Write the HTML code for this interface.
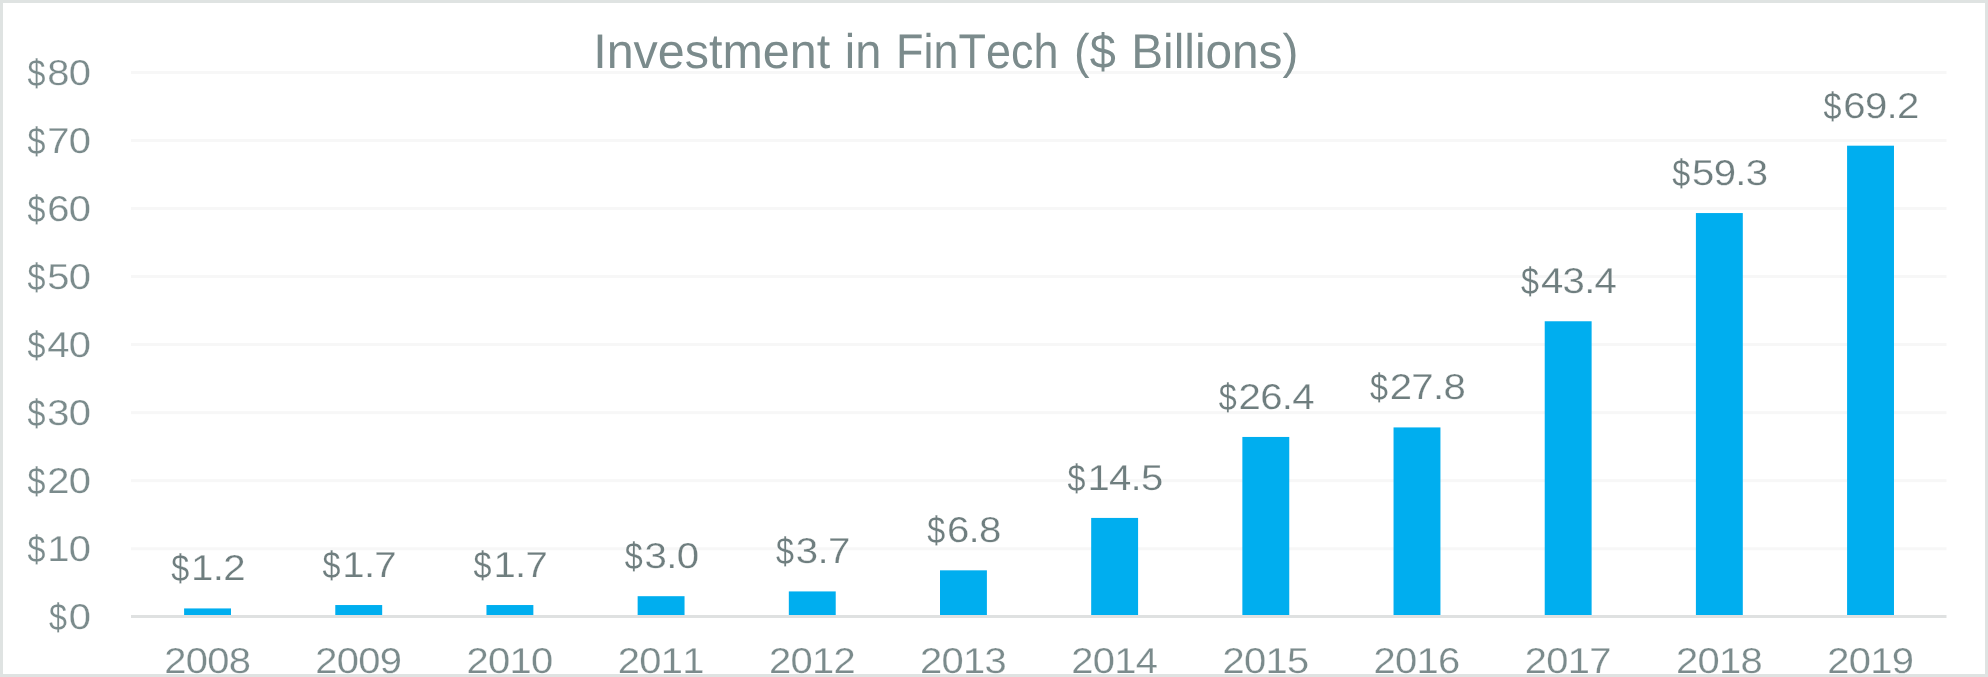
<!DOCTYPE html>
<html><head><meta charset="utf-8"><title>Investment in FinTech</title>
<style>
html,body{margin:0;padding:0;background:#fff;}
body{width:1988px;height:677px;overflow:hidden;position:relative;font-family:"Liberation Sans",sans-serif;}
#frame{position:absolute;left:0;top:0;width:1982px;height:671px;border:3px solid #dfe3e2;background:#fff;}
svg{position:absolute;left:0;top:0;will-change:transform;}
text{font-family:"Liberation Sans",sans-serif;stroke:#fff;stroke-width:0.25px;text-rendering:geometricPrecision;font-kerning:none;}
</style></head><body>
<div id="frame"></div>
<svg width="1988" height="677" viewBox="0 0 1988 677">
<rect x="131.0" y="547.25" width="1815.5" height="3" fill="#f7f7f7"/>
<rect x="131.0" y="479.20" width="1815.5" height="3" fill="#f7f7f7"/>
<rect x="131.0" y="411.15" width="1815.5" height="3" fill="#f7f7f7"/>
<rect x="131.0" y="343.10" width="1815.5" height="3" fill="#f7f7f7"/>
<rect x="131.0" y="275.05" width="1815.5" height="3" fill="#f7f7f7"/>
<rect x="131.0" y="207.00" width="1815.5" height="3" fill="#f7f7f7"/>
<rect x="131.0" y="138.95" width="1815.5" height="3" fill="#f7f7f7"/>
<rect x="131.0" y="70.90" width="1815.5" height="3" fill="#f7f7f7"/>
<rect x="184.10" y="608.43" width="46.9" height="8.17" fill="#00aeef"/>
<rect x="335.28" y="605.03" width="46.9" height="11.57" fill="#00aeef"/>
<rect x="486.46" y="605.03" width="46.9" height="11.57" fill="#00aeef"/>
<rect x="637.64" y="596.19" width="46.9" height="20.41" fill="#00aeef"/>
<rect x="788.82" y="591.42" width="46.9" height="25.18" fill="#00aeef"/>
<rect x="940.00" y="570.33" width="46.9" height="46.27" fill="#00aeef"/>
<rect x="1091.18" y="517.93" width="46.9" height="98.67" fill="#00aeef"/>
<rect x="1242.36" y="436.95" width="46.9" height="179.65" fill="#00aeef"/>
<rect x="1393.54" y="427.42" width="46.9" height="189.18" fill="#00aeef"/>
<rect x="1544.72" y="321.26" width="46.9" height="295.34" fill="#00aeef"/>
<rect x="1695.90" y="213.06" width="46.9" height="403.54" fill="#00aeef"/>
<rect x="1847.08" y="145.69" width="46.9" height="470.91" fill="#00aeef"/>
<rect x="131.0" y="615" width="1815.5" height="3" fill="#dfe1e1"/>
<text x="593.19" y="67.7" font-size="48.6" fill="#7b8b8c" style="stroke:none" textLength="237.04" lengthAdjust="spacingAndGlyphs">Investment</text>
<text x="844.84" y="67.7" font-size="48.6" fill="#7b8b8c" style="stroke:none" textLength="36.56" lengthAdjust="spacingAndGlyphs">in</text>
<text x="896.0" y="67.7" font-size="48.6" fill="#7b8b8c" style="stroke:none" textLength="162.41" lengthAdjust="spacingAndGlyphs">FinTech</text>
<text x="1074.08" y="67.7" font-size="48.6" fill="#7b8b8c" style="stroke:none" textLength="41.68" lengthAdjust="spacingAndGlyphs">($</text>
<text x="1131.2" y="67.7" font-size="48.6" fill="#7b8b8c" style="stroke:none" textLength="167.24" lengthAdjust="spacingAndGlyphs">Billions)</text>
<text x="48.91" y="630.00" font-size="37.70" fill="#7b8b8c" style="stroke-width:0.15px" textLength="17.97" lengthAdjust="spacingAndGlyphs">$</text><text x="68.75" y="629.00" font-size="35.9" fill="#7b8b8c" style="letter-spacing:-0.64px" textLength="21.50" lengthAdjust="spacingAndGlyphs">0</text>
<text x="27.41" y="562.00" font-size="37.70" fill="#7b8b8c" style="stroke-width:0.15px" textLength="17.97" lengthAdjust="spacingAndGlyphs">$</text><text x="47.25" y="561.00" font-size="35.9" fill="#7b8b8c" style="letter-spacing:-0.64px" textLength="43.00" lengthAdjust="spacingAndGlyphs">10</text>
<text x="27.41" y="494.00" font-size="37.70" fill="#7b8b8c" style="stroke-width:0.15px" textLength="17.97" lengthAdjust="spacingAndGlyphs">$</text><text x="47.25" y="493.00" font-size="35.9" fill="#7b8b8c" style="letter-spacing:-0.64px" textLength="43.00" lengthAdjust="spacingAndGlyphs">20</text>
<text x="27.41" y="426.00" font-size="37.70" fill="#7b8b8c" style="stroke-width:0.15px" textLength="17.97" lengthAdjust="spacingAndGlyphs">$</text><text x="47.25" y="425.00" font-size="35.9" fill="#7b8b8c" style="letter-spacing:-0.64px" textLength="43.00" lengthAdjust="spacingAndGlyphs">30</text>
<text x="27.41" y="358.00" font-size="37.70" fill="#7b8b8c" style="stroke-width:0.15px" textLength="17.97" lengthAdjust="spacingAndGlyphs">$</text><text x="47.25" y="357.00" font-size="35.9" fill="#7b8b8c" style="letter-spacing:-0.64px" textLength="43.00" lengthAdjust="spacingAndGlyphs">40</text>
<text x="27.41" y="290.00" font-size="37.70" fill="#7b8b8c" style="stroke-width:0.15px" textLength="17.97" lengthAdjust="spacingAndGlyphs">$</text><text x="47.25" y="289.00" font-size="35.9" fill="#7b8b8c" style="letter-spacing:-0.64px" textLength="43.00" lengthAdjust="spacingAndGlyphs">50</text>
<text x="27.41" y="222.00" font-size="37.70" fill="#7b8b8c" style="stroke-width:0.15px" textLength="17.97" lengthAdjust="spacingAndGlyphs">$</text><text x="47.25" y="221.00" font-size="35.9" fill="#7b8b8c" style="letter-spacing:-0.64px" textLength="43.00" lengthAdjust="spacingAndGlyphs">60</text>
<text x="27.41" y="154.00" font-size="37.70" fill="#7b8b8c" style="stroke-width:0.15px" textLength="17.97" lengthAdjust="spacingAndGlyphs">$</text><text x="47.25" y="153.00" font-size="35.9" fill="#7b8b8c" style="letter-spacing:-0.64px" textLength="43.00" lengthAdjust="spacingAndGlyphs">70</text>
<text x="27.41" y="86.00" font-size="37.70" fill="#7b8b8c" style="stroke-width:0.15px" textLength="17.97" lengthAdjust="spacingAndGlyphs">$</text><text x="47.25" y="85.00" font-size="35.9" fill="#7b8b8c" style="letter-spacing:-0.64px" textLength="43.00" lengthAdjust="spacingAndGlyphs">80</text>
<text x="164.20" y="673.00" font-size="35.9" fill="#7b8b8c" style="letter-spacing:-0.64px" textLength="86.00" lengthAdjust="spacingAndGlyphs">2008</text>
<text x="315.38" y="673.00" font-size="35.9" fill="#7b8b8c" style="letter-spacing:-0.64px" textLength="86.00" lengthAdjust="spacingAndGlyphs">2009</text>
<text x="466.56" y="673.00" font-size="35.9" fill="#7b8b8c" style="letter-spacing:-0.64px" textLength="86.00" lengthAdjust="spacingAndGlyphs">2010</text>
<text x="617.74" y="673.00" font-size="35.9" fill="#7b8b8c" style="letter-spacing:-0.64px" textLength="86.00" lengthAdjust="spacingAndGlyphs">2011</text>
<text x="768.92" y="673.00" font-size="35.9" fill="#7b8b8c" style="letter-spacing:-0.64px" textLength="86.00" lengthAdjust="spacingAndGlyphs">2012</text>
<text x="920.10" y="673.00" font-size="35.9" fill="#7b8b8c" style="letter-spacing:-0.64px" textLength="86.00" lengthAdjust="spacingAndGlyphs">2013</text>
<text x="1071.28" y="673.00" font-size="35.9" fill="#7b8b8c" style="letter-spacing:-0.64px" textLength="86.00" lengthAdjust="spacingAndGlyphs">2014</text>
<text x="1222.46" y="673.00" font-size="35.9" fill="#7b8b8c" style="letter-spacing:-0.64px" textLength="86.00" lengthAdjust="spacingAndGlyphs">2015</text>
<text x="1373.64" y="673.00" font-size="35.9" fill="#7b8b8c" style="letter-spacing:-0.64px" textLength="86.00" lengthAdjust="spacingAndGlyphs">2016</text>
<text x="1524.82" y="673.00" font-size="35.9" fill="#7b8b8c" style="letter-spacing:-0.64px" textLength="86.00" lengthAdjust="spacingAndGlyphs">2017</text>
<text x="1676.00" y="673.00" font-size="35.9" fill="#7b8b8c" style="letter-spacing:-0.64px" textLength="86.00" lengthAdjust="spacingAndGlyphs">2018</text>
<text x="1827.18" y="673.00" font-size="35.9" fill="#7b8b8c" style="letter-spacing:-0.64px" textLength="86.00" lengthAdjust="spacingAndGlyphs">2019</text>
<text x="171.24" y="581.00" font-size="37.70" fill="#6f7e7f" style="stroke-width:0.15px" textLength="17.97" lengthAdjust="spacingAndGlyphs">$</text><text x="191.08" y="580.00" font-size="35.9" fill="#6f7e7f" style="letter-spacing:-0.64px" textLength="53.75" lengthAdjust="spacingAndGlyphs">1.2</text>
<text x="322.42" y="578.00" font-size="37.70" fill="#6f7e7f" style="stroke-width:0.15px" textLength="17.97" lengthAdjust="spacingAndGlyphs">$</text><text x="342.25" y="577.00" font-size="35.9" fill="#6f7e7f" style="letter-spacing:-0.64px" textLength="53.75" lengthAdjust="spacingAndGlyphs">1.7</text>
<text x="473.60" y="578.00" font-size="37.70" fill="#6f7e7f" style="stroke-width:0.15px" textLength="17.97" lengthAdjust="spacingAndGlyphs">$</text><text x="493.44" y="577.00" font-size="35.9" fill="#6f7e7f" style="letter-spacing:-0.64px" textLength="53.75" lengthAdjust="spacingAndGlyphs">1.7</text>
<text x="624.78" y="569.00" font-size="37.70" fill="#6f7e7f" style="stroke-width:0.15px" textLength="17.97" lengthAdjust="spacingAndGlyphs">$</text><text x="644.62" y="568.00" font-size="35.9" fill="#6f7e7f" style="letter-spacing:-0.64px" textLength="53.75" lengthAdjust="spacingAndGlyphs">3.0</text>
<text x="775.96" y="564.00" font-size="37.70" fill="#6f7e7f" style="stroke-width:0.15px" textLength="17.97" lengthAdjust="spacingAndGlyphs">$</text><text x="795.80" y="563.00" font-size="35.9" fill="#6f7e7f" style="letter-spacing:-0.64px" textLength="53.75" lengthAdjust="spacingAndGlyphs">3.7</text>
<text x="927.14" y="543.00" font-size="37.70" fill="#6f7e7f" style="stroke-width:0.15px" textLength="17.97" lengthAdjust="spacingAndGlyphs">$</text><text x="946.98" y="542.00" font-size="35.9" fill="#6f7e7f" style="letter-spacing:-0.64px" textLength="53.75" lengthAdjust="spacingAndGlyphs">6.8</text>
<text x="1067.57" y="491.00" font-size="37.70" fill="#6f7e7f" style="stroke-width:0.15px" textLength="17.97" lengthAdjust="spacingAndGlyphs">$</text><text x="1087.41" y="490.00" font-size="35.9" fill="#6f7e7f" style="letter-spacing:-0.64px" textLength="75.25" lengthAdjust="spacingAndGlyphs">14.5</text>
<text x="1218.75" y="410.00" font-size="37.70" fill="#6f7e7f" style="stroke-width:0.15px" textLength="17.97" lengthAdjust="spacingAndGlyphs">$</text><text x="1238.59" y="409.00" font-size="35.9" fill="#6f7e7f" style="letter-spacing:-0.64px" textLength="75.25" lengthAdjust="spacingAndGlyphs">26.4</text>
<text x="1369.93" y="400.00" font-size="37.70" fill="#6f7e7f" style="stroke-width:0.15px" textLength="17.97" lengthAdjust="spacingAndGlyphs">$</text><text x="1389.77" y="399.00" font-size="35.9" fill="#6f7e7f" style="letter-spacing:-0.64px" textLength="75.25" lengthAdjust="spacingAndGlyphs">27.8</text>
<text x="1521.11" y="294.00" font-size="37.70" fill="#6f7e7f" style="stroke-width:0.15px" textLength="17.97" lengthAdjust="spacingAndGlyphs">$</text><text x="1540.95" y="293.00" font-size="35.9" fill="#6f7e7f" style="letter-spacing:-0.64px" textLength="75.25" lengthAdjust="spacingAndGlyphs">43.4</text>
<text x="1672.29" y="186.00" font-size="37.70" fill="#6f7e7f" style="stroke-width:0.15px" textLength="17.97" lengthAdjust="spacingAndGlyphs">$</text><text x="1692.13" y="185.00" font-size="35.9" fill="#6f7e7f" style="letter-spacing:-0.64px" textLength="75.25" lengthAdjust="spacingAndGlyphs">59.3</text>
<text x="1823.47" y="119.00" font-size="37.70" fill="#6f7e7f" style="stroke-width:0.15px" textLength="17.97" lengthAdjust="spacingAndGlyphs">$</text><text x="1843.31" y="118.00" font-size="35.9" fill="#6f7e7f" style="letter-spacing:-0.64px" textLength="75.25" lengthAdjust="spacingAndGlyphs">69.2</text>
</svg>
</body></html>
